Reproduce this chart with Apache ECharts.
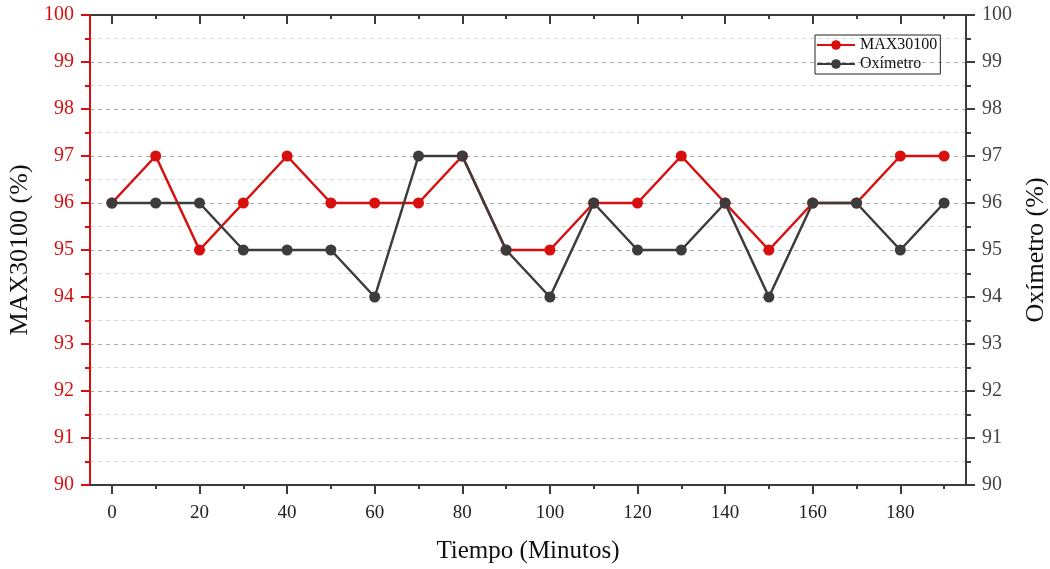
<!DOCTYPE html>
<html><head><meta charset="utf-8">
<script src="https://cdn.jsdelivr.net/npm/echarts@6/dist/echarts.min.js"></script>
<style>html,body{margin:0;padding:0;background:#fff}#c{width:1050px;height:569px}</style>
</head><body><div id="c"></div>
<script>
const minutes = [0,10,20,30,40,50,60,70,80,90,100,110,120,130,140,150,160,170,180,190];
const max30100 = [96,97,95,96,97,96,96,96,97,95,95,96,96,97,96,95,96,96,97,97];
const oximetro = [96,96,96,95,95,95,94,97,97,95,94,96,95,95,96,94,96,96,95,96];
const xMajorTicks = [0,20,40,60,80,100,120,140,160,180];
const xMinorTicks = [10,30,50,70,90,110,130,150,170,190];

const RED = '#d80f0f';
const DARK = '#3c3c3c';
const FONT = '"Liberation Serif", "DejaVu Serif", serif';

function xa(pos, ticks, len, inside, showLabel, showLine) {
  return {
    type: 'value', min: -5, max: 195, position: pos,
    axisLine: {show: showLine, onZero: false, lineStyle: {color: DARK, width: 2}},
    axisTick: {show: true, customValues: ticks, length: len, inside: inside, lineStyle: {color: DARK, width: 2}},
    axisLabel: showLabel ? {show: true, customValues: ticks, color: '#222', fontFamily: FONT, fontSize: 19, margin: 19} : {show: false},
    splitLine: {show: false}
  };
}

const chart = echarts.init(document.getElementById('c'));
chart.setOption({
  backgroundColor: '#fff',
  animation: false,
  grid: {left: 90, right: 84, top: 15, bottom: 84, containLabel: false, outerBoundsMode: 'none'},
  legend: {
    orient: 'vertical', left: 815, top: 35,
    data: ['MAX30100', 'Oxímetro'],
    borderColor: '#222', borderWidth: 1, padding: [2, 3, 2, 1],
    itemWidth: 38, itemHeight: 12, itemGap: 3,
    textStyle: {fontFamily: FONT, fontSize: 16, color: '#111'}
  },
  xAxis: [
    Object.assign(xa('bottom', xMajorTicks, 9, false, true, true), {
      name: 'Tiempo (Minutos)', nameLocation: 'middle', nameGap: 54,
      nameTextStyle: {fontFamily: FONT, fontSize: 25, color: '#111'}
    }),
    xa('bottom', xMinorTicks, 4, false, false, false),
    xa('top', xMajorTicks, 9, true, false, true),
    xa('top', xMinorTicks, 4, true, false, false)
  ],
  yAxis: [
    {
      type: 'value', min: 90, max: 100, interval: 1, position: 'left',
      name: 'MAX30100 (%)', nameLocation: 'middle', nameGap: 53, nameRotate: 90,
      nameTextStyle: {fontFamily: FONT, fontSize: 26, color: '#111'},
      axisLine: {show: true, onZero: false, lineStyle: {color: RED, width: 2}},
      axisTick: {show: true, length: 9, lineStyle: {color: RED, width: 2}},
      minorTick: {show: true, splitNumber: 2, length: 5, lineStyle: {color: RED, width: 2}},
      axisLabel: {color: RED, fontFamily: FONT, fontSize: 20, margin: 16},
      splitLine: {show: true, lineStyle: {color: '#a8a8a8', type: [4, 4], width: 1}},
      minorSplitLine: {show: true, lineStyle: {color: '#d8d8d8', type: [4, 4], width: 1}}
    },
    {
      type: 'value', min: 90, max: 100, interval: 1, position: 'right',
      name: 'Oxímetro (%)', nameLocation: 'middle', nameGap: 56, nameRotate: 90,
      nameTextStyle: {fontFamily: FONT, fontSize: 26, color: '#111'},
      axisLine: {show: true, onZero: false, lineStyle: {color: DARK, width: 2}},
      axisTick: {show: true, length: 9, lineStyle: {color: DARK, width: 2}},
      minorTick: {show: true, splitNumber: 2, length: 5, lineStyle: {color: DARK, width: 2}},
      axisLabel: {color: '#444', fontFamily: FONT, fontSize: 20, margin: 16},
      splitLine: {show: false}
    }
  ],
  series: [
    {
      name: 'MAX30100', type: 'line', xAxisIndex: 0, yAxisIndex: 0,
      data: minutes.map((m, i) => [m, max30100[i]]),
      symbol: 'circle', symbolSize: 11,
      lineStyle: {color: RED, width: 2.5}, itemStyle: {color: RED}
    },
    {
      name: 'Oxímetro', type: 'line', xAxisIndex: 0, yAxisIndex: 1,
      data: minutes.map((m, i) => [m, oximetro[i]]),
      symbol: 'circle', symbolSize: 11,
      lineStyle: {color: DARK, width: 2.5}, itemStyle: {color: DARK}
    }
  ]
});
</script></body></html>
